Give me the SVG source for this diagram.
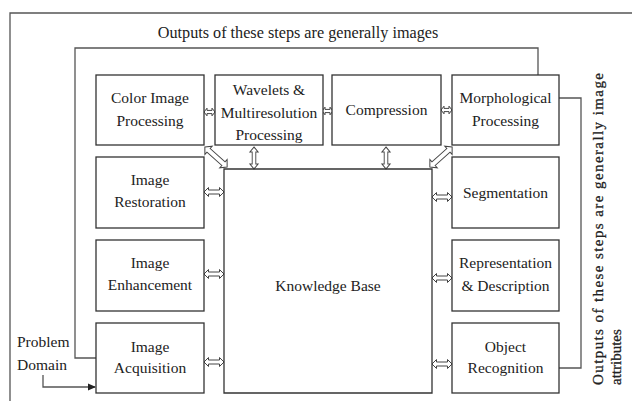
<svg xmlns="http://www.w3.org/2000/svg" width="632" height="401" viewBox="0 0 632 401">
<style>
text{font-family:"Liberation Serif","Times New Roman",serif;font-size:15.5px;fill:#222;text-anchor:middle}
.box{fill:#fff;stroke:#333;stroke-width:1.3}
.line{fill:none;stroke:#555;stroke-width:1.3}
.dbl{fill:#fff;stroke:#444;stroke-width:1}
.side{font-size:15px;text-anchor:start;stroke:#222;stroke-width:0.3}
</style>
<defs>
<path id="dblS" d="M-5.5,0 L-2.5,-3.8 L-2.5,-1.6 L2.5,-1.6 L2.5,-3.8 L5.5,0 L2.5,3.8 L2.5,1.6 L-2.5,1.6 L-2.5,3.8Z"/>
<path id="dblL" d="M-10,0 L-5.5,-4.5 L-5.5,-2 L5.5,-2 L5.5,-4.5 L10,0 L5.5,4.5 L5.5,2 L-5.5,2 L-5.5,4.5Z"/>
<path id="dblD" d="M-15,0 L-10,-5.5 L-10,-2.4 L10,-2.4 L10,-5.5 L15,0 L10,5.5 L10,2.4 L-10,2.4 L-10,5.5Z"/>
<marker id="ah" markerWidth="8" markerHeight="8" refX="7" refY="4" orient="auto" markerUnits="userSpaceOnUse">
<path d="M0,0.5 L8,4 L0,7.5Z" fill="#222"/>
</marker>
</defs>
<rect width="632" height="401" fill="#fff"/>
<path class="line" d="M10,401 V13 H632" stroke="#333"/>
<text x="298" y="38" style="font-size:16.2px">Outputs of these steps are generally images</text>
<g transform="translate(603,385) rotate(-90)"><text class="side" x="0" y="0" textLength="312" lengthAdjust="spacing">Outputs of these steps are generally image</text></g>
<g transform="translate(621,385) rotate(-90)"><text class="side" x="0" y="0">attributes</text></g>
<text x="17" y="347" style="text-anchor:start">Problem</text>
<text x="17" y="370" style="text-anchor:start">Domain</text>

<g id="connectors">
<polyline class="line" points="96,358 75,358 75,48 538,48 538,75"/>
<polyline class="line" points="559,98 581,98 581,368 559,368"/>
<polyline class="line" points="43,375 43,387 95,387" stroke="#222" marker-end="url(#ah)"/>
<use href="#dblS" class="dbl" transform="translate(209.5,112)"/>
<use href="#dblS" class="dbl" transform="translate(327.5,111)"/>
<use href="#dblS" class="dbl" transform="translate(446.5,110)"/>
<use href="#dblL" class="dbl" transform="translate(254,158) rotate(90) scale(1.1,0.9)"/>
<use href="#dblL" class="dbl" transform="translate(386,158) rotate(90) scale(1.1,0.9)"/>
<use href="#dblL" class="dbl" transform="translate(214,192)"/>
<use href="#dblL" class="dbl" transform="translate(214,274)"/>
<use href="#dblL" class="dbl" transform="translate(214,362)"/>
<use href="#dblL" class="dbl" transform="translate(442,197)"/>
<use href="#dblL" class="dbl" transform="translate(442,278)"/>
<use href="#dblL" class="dbl" transform="translate(442,364)"/>
<use href="#dblD" class="dbl" transform="translate(216,157) rotate(42)"/>
<use href="#dblD" class="dbl" transform="translate(441,157) rotate(138)"/>
</g>

<g id="knowledge-base"><path class="box" d="M224,169 H432 V393 H224Z" style="fill:none"/><text x="328" y="291">Knowledge Base</text></g>
<g id="color-image-processing"><rect class="box" x="96" y="75" width="108" height="70"/><text x="150" y="103">Color Image</text><text x="150" y="126">Processing</text></g>
<g id="wavelets"><rect class="box" x="215" y="75" width="108" height="70"/><text x="269" y="95">Wavelets &amp;</text><text x="269" y="118">Multiresolution</text><text x="269" y="140">Processing</text></g>
<g id="compression"><rect class="box" x="332" y="75" width="109" height="70"/><text x="386.5" y="115">Compression</text></g>
<g id="morphological-processing"><rect class="box" x="452" y="75" width="107" height="70"/><text x="505.5" y="103">Morphological</text><text x="505.5" y="126">Processing</text></g>
<g id="image-restoration"><rect class="box" x="96" y="157" width="108" height="71"/><text x="150" y="185">Image</text><text x="150" y="207">Restoration</text></g>
<g id="image-enhancement"><rect class="box" x="96" y="240" width="108" height="71"/><text x="150" y="268">Image</text><text x="150" y="290">Enhancement</text></g>
<g id="image-acquisition"><rect class="box" x="96" y="323" width="108" height="70"/><text x="150" y="352">Image</text><text x="150" y="373">Acquisition</text></g>
<g id="segmentation"><rect class="box" x="452" y="157" width="107" height="71"/><text x="505.5" y="198">Segmentation</text></g>
<g id="representation-description"><rect class="box" x="452" y="240" width="107" height="71"/><text x="505.5" y="268">Representation</text><text x="505.5" y="291">&amp; Description</text></g>
<g id="object-recognition"><rect class="box" x="452" y="323" width="107" height="70"/><text x="505.5" y="352">Object</text><text x="505.5" y="373">Recognition</text></g>
</svg>
